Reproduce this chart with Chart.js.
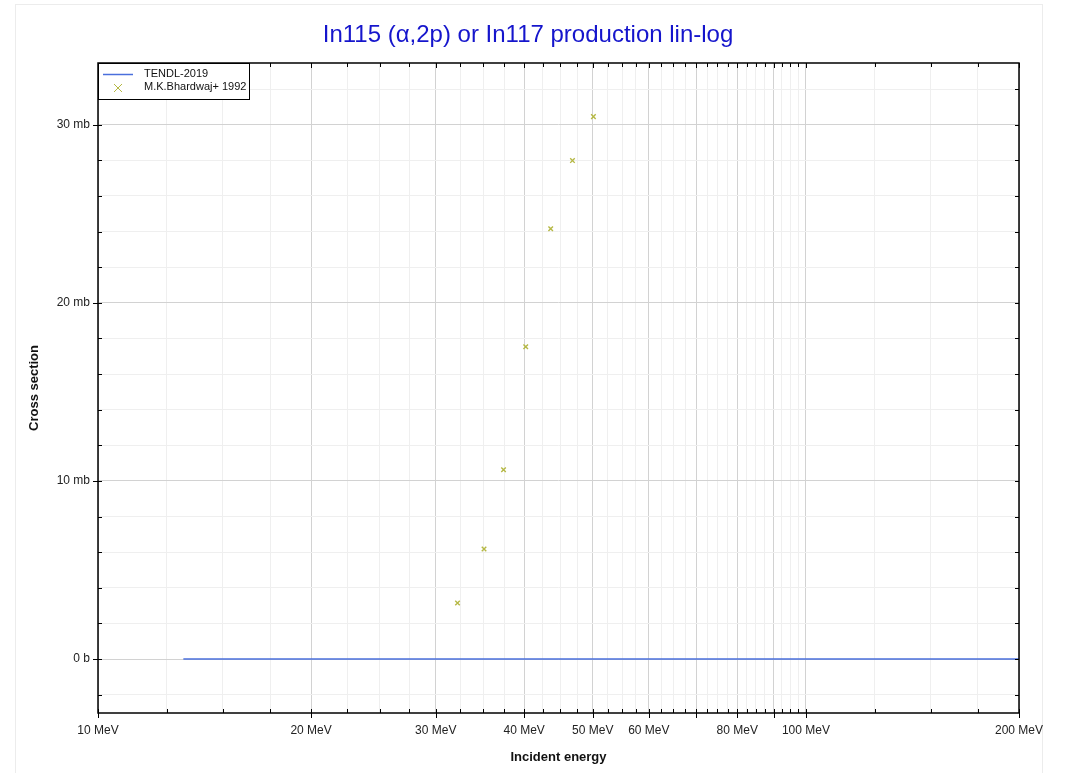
<!DOCTYPE html>
<html>
<head>
<meta charset="utf-8">
<script src="https://cdn.jsdelivr.net/npm/chart.js@4.4.1/dist/chart.umd.min.js"></script>
<style>
html,body{margin:0;padding:0;background:#fff;}
#wrap{width:1067px;height:773px;position:relative;}
</style>
</head>
<body>
<div id="wrap"><canvas id="c" width="1067" height="773"></canvas></div>
<script>
// ---- data ----
const chartTitle = 'In115 (α,2p) or In117 production lin-log';
const tendlEnergy = [13.2, 15, 20, 25, 30, 40, 50, 60, 80, 100, 150, 200];
const tendlXs = [0, 0, 0, 0, 0, 0, 0, 0, 0, 0, 0, 0];
const expEnergy = [32.2, 35.1, 37.4, 40.2, 43.6, 46.8, 50.1];
const expXs = [3.15, 6.18, 10.62, 17.53, 24.16, 27.98, 30.45];
const xMajorTicks = [10, 20, 30, 40, 50, 60, 70, 80, 90, 100, 200];
const xLabelTicks = [10, 20, 30, 40, 50, 60, 80, 100, 200];
const xMinorTicks = [12.5, 15, 17.5, 22.5, 25, 27.5, 32.5, 35, 37.5, 42.5, 45, 47.5, 52.5, 55, 57.5,
  62.5, 65, 67.5, 72.5, 75, 77.5, 82.5, 85, 87.5, 92.5, 95, 97.5, 125, 150, 175];
const yTicks = [-2, 0, 2, 4, 6, 8, 10, 12, 14, 16, 18, 20, 22, 24, 26, 28, 30, 32];
const yMajorTicks = [0, 10, 20, 30];
const seriesNames = ['TENDL-2019', 'M.K.Bhardwaj+ 1992'];
const seriesColors = ['#4a6fdc', '#b5b844'];

const allXTicks = xMajorTicks.concat(xMinorTicks).sort((a, b) => a - b);
const isMajorX = v => xMajorTicks.some(m => Math.abs(m - v) < 1e-6);
const isMajorY = v => yMajorTicks.some(m => Math.abs(m - v) < 1e-6);
const FONT = '"Liberation Sans", Arial, sans-serif';

const framePlugin = {
  id: 'frame',
  beforeDraw(chart) {
    const ctx = chart.ctx;
    ctx.save();
    ctx.fillStyle = '#fff';
    ctx.fillRect(0, 0, chart.width, chart.height);
    ctx.strokeStyle = '#ececec';
    ctx.lineWidth = 1;
    ctx.strokeRect(15.5, 4.5, 1027, 800);
    // title
    ctx.fillStyle = '#1515cc';
    ctx.font = '24px ' + FONT;
    ctx.textAlign = 'center';
    ctx.textBaseline = 'alphabetic';
    ctx.fillText(chartTitle, 528, 42);
    ctx.restore();
  },
  afterDraw(chart) {
    const ctx = chart.ctx;
    const a = chart.chartArea;
    const xs = chart.scales.x, ys = chart.scales.y;
    ctx.save();
    ctx.strokeStyle = '#000';
    ctx.lineWidth = 1;
    ctx.beginPath();
    xs.ticks.forEach(t => {
      const px = Math.round(xs.getPixelForValue(t.value)) + 0.5;
      const maj = isMajorX(t.value);
      ctx.moveTo(px, maj ? a.bottom + 5 : a.bottom);
      ctx.lineTo(px, a.bottom - 4);
      ctx.moveTo(px, a.top);
      ctx.lineTo(px, a.top + (maj ? 5 : 4));
    });
    ys.ticks.forEach(t => {
      const py = Math.round(ys.getPixelForValue(t.value)) + 0.5;
      const maj = isMajorY(t.value);
      ctx.moveTo(maj ? a.left - 5 : a.left, py);
      ctx.lineTo(a.left + 4, py);
      ctx.moveTo(a.right, py);
      ctx.lineTo(a.right - 4, py);
    });
    ctx.stroke();
    ctx.lineWidth = 1.5;
    ctx.strokeRect(a.left, a.top, a.right - a.left, a.bottom - a.top);

    // legend box
    const lx = a.left, ly = a.top, lw = 151, lh = 36;
    ctx.fillStyle = '#fff';
    ctx.fillRect(lx, ly, lw, lh);
    ctx.lineWidth = 1;
    ctx.strokeStyle = '#000';
    ctx.strokeRect(lx + 0.5, ly + 0.5, lw, lh);
    ctx.strokeStyle = seriesColors[0];
    ctx.lineWidth = 1.5;
    ctx.beginPath();
    ctx.moveTo(lx + 5, ly + 11.5);
    ctx.lineTo(lx + 35, ly + 11.5);
    ctx.stroke();
    ctx.strokeStyle = seriesColors[1];
    ctx.lineWidth = 1;
    ctx.beginPath();
    const cx = lx + 20, cy = ly + 25, r = 4;
    ctx.moveTo(cx - r, cy - r); ctx.lineTo(cx + r, cy + r);
    ctx.moveTo(cx + r, cy - r); ctx.lineTo(cx - r, cy + r);
    ctx.stroke();
    ctx.fillStyle = '#111';
    ctx.font = '11px ' + FONT;
    ctx.textBaseline = 'middle';
    ctx.textAlign = 'left';
    ctx.fillText(seriesNames[0], lx + 46, ly + 11);
    ctx.fillText(seriesNames[1], lx + 46, ly + 24);
    ctx.restore();
  }
};

new Chart(document.getElementById('c'), {
  type: 'scatter',
  data: {
    datasets: [
      {
        label: seriesNames[0],
        data: tendlEnergy.map((e, i) => ({x: e, y: tendlXs[i]})),
        showLine: true,
        borderColor: seriesColors[0],
        backgroundColor: seriesColors[0],
        borderWidth: 1.5,
        pointRadius: 0,
        order: 2
      },
      {
        label: seriesNames[1],
        data: expEnergy.map((e, i) => ({x: e, y: expXs[i]})),
        showLine: false,
        pointStyle: 'crossRot',
        pointRadius: 3.2,
        borderWidth: 1.4,
        borderColor: seriesColors[1],
        backgroundColor: seriesColors[1],
        order: 1
      }
    ]
  },
  options: {
    responsive: false,
    animation: false,
    layout: {padding: {left: 0, right: 48, top: 63, bottom: 0}},
    plugins: {
      legend: {display: false},
      tooltip: {enabled: false},
      title: {display: false}
    },
    scales: {
      x: {
        type: 'logarithmic',
        min: 10,
        max: 200,
        afterBuildTicks(scale) {
          scale.ticks = allXTicks.map(v => ({value: v, major: isMajorX(v)}));
        },
        afterFit(scale) { scale.height = 60; },
        ticks: {
          autoSkip: false,
          maxRotation: 0,
          minRotation: 0,
          padding: 10,
          color: '#222',
          font: {family: FONT, size: 12},
          callback(v) {
            return xLabelTicks.some(m => Math.abs(m - v) < 1e-6) ? (v + ' MeV') : '';
          }
        },
        grid: {
          drawTicks: false,
          color: ctx => (ctx.tick && isMajorX(ctx.tick.value)) ? '#d2d2d2' : '#efefef',
          lineWidth: 1
        },
        border: {display: false},
        title: {
          display: true,
          text: 'Incident energy',
          color: '#111',
          font: {family: FONT, size: 13, weight: 'bold', lineHeight: 1.2},
          padding: {top: 0, bottom: 8}
        }
      },
      y: {
        type: 'linear',
        min: -3.03,
        max: 33.46,
        afterBuildTicks(scale) {
          scale.ticks = yTicks.map(v => ({value: v, major: isMajorY(v)}));
        },
        afterFit(scale) { scale.width = 98; },
        ticks: {
          autoSkip: false,
          padding: 8,
          color: '#222',
          font: {family: FONT, size: 12},
          callback(v) {
            if (Math.abs(v) < 1e-9) return '0 b';
            return isMajorY(v) ? (v + ' mb') : '';
          }
        },
        grid: {
          drawTicks: false,
          color: ctx => (ctx.tick && isMajorY(ctx.tick.value)) ? '#d2d2d2' : '#efefef',
          lineWidth: 1
        },
        border: {display: false},
        title: {
          display: true,
          text: 'Cross section',
          color: '#111',
          font: {family: FONT, size: 13, weight: 'bold', lineHeight: 1.2},
          padding: {top: 27, bottom: 0}
        }
      }
    }
  },
  plugins: [framePlugin]
});
</script>
</body>
</html>
